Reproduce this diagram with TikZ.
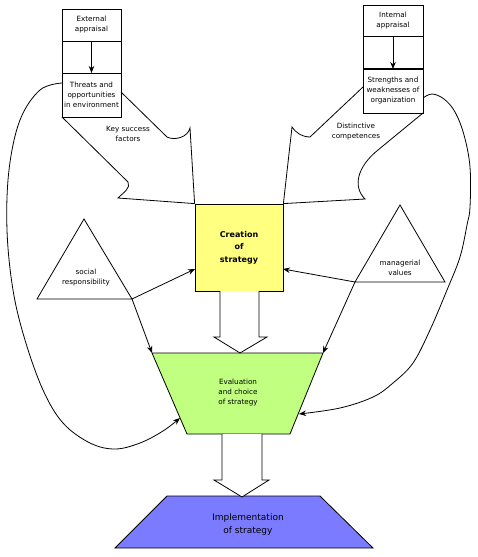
\documentclass[tikz,border=0pt]{standalone}
\usepackage{fontspec}
\setmainfont{DejaVu Sans}
\usetikzlibrary{arrows.meta}
\definecolor{cyellow}{RGB}{255,255,128}
\definecolor{cgreen}{RGB}{192,255,128}
\definecolor{cblue}{RGB}{123,123,255}
\begin{document}
\begin{tikzpicture}[x=1pt,y=-1pt,line width=0.8pt,
  lbl/.style={font=\fontsize{7.2}{10}\selectfont,align=center,inner sep=0pt},
  arr/.style={-{Stealth[length=7pt,width=5.5pt]}},
  boxs/.style={draw,minimum width=59pt,inner sep=0pt,outer sep=0pt,anchor=north west}]
\useasboundingbox (0,0) rectangle (477,557);

% external appraisal column
\node[boxs,lbl,minimum height=32pt] (ext) at (62,9) {External\\appraisal};
\node[boxs,minimum height=32pt] (extmid) at (62,41) {};
\node[boxs,lbl,minimum height=44pt] (thr) at (62,73) {Threats and\\opportunities\\in environment};
\draw[arr] (ext.south) -- (thr.north);

% internal appraisal column
\node[boxs,lbl,minimum width=60pt,minimum height=31pt] (int) at (363,5) {Internal\\appraisal};
\node[boxs,minimum width=60pt,minimum height=33pt] (intmid) at (363,36) {};
\node[boxs,lbl,minimum width=60pt,minimum height=44pt] (str) at (363,69) {Strengths and\\weaknesses of\\organization};
\draw[arr] (int.south) -- (str.north);
\draw[line width=1.6pt] (str.north west) -- (str.north east);

% creation of strategy
\node[draw,fill=cyellow,minimum width=88pt,minimum height=87pt,inner sep=0pt,
  font=\bfseries\fontsize{8}{12.5}\selectfont,align=center] (cre) at (239,247.5) {Creation\\of\\strategy};

% funnels
\draw (thr.south west) -- (128,182) .. controls (131,188) and (124,192) .. (118,198) -- (cre.north west);
\draw (121,92) -- (167,137) .. controls (175,141) and (188,137) .. (190,128) -- (cre.north west);
\draw (363,87) -- (310,137) .. controls (302,137) and (295,132) .. (292,127) -- (cre.north east);
\draw (str.south east) -- (378,150) .. controls (358,166) and (352,186) .. (365,199) -- (cre.north east);
\node[lbl] (ksf) at (128,134) {Key success\\factors};
\node[lbl] (dc) at (356,132) {Distinctive\\competences};

% evaluation trapezoid
\coordinate (g1) at (152,353);
\coordinate (g2) at (323,353);
\coordinate (g3) at (290,434);
\coordinate (g4) at (187,434);
\draw[fill=cgreen] (g1) -- (g2) -- (g3) -- (g4) -- cycle;
\node[lbl] (eva) at (238,393) {Evaluation\\and choice\\of strategy};

% implementation trapezoid
\coordinate (p1) at (167,496);
\coordinate (p2) at (320,496);
\coordinate (p3) at (373,548);
\coordinate (p4) at (115,548);
\draw[fill=cblue] (p1) -- (p2) -- (p3) -- (p4) -- cycle;
\node[font=\fontsize{9}{13}\selectfont,align=center,inner sep=0pt] (imp) at (248,525) {Implementation\\of strategy};

% block arrows
\draw[fill=white] (220,291) -- (220,337) -- (214,337) -- (240,353) -- (267,337) -- (259,337) -- (259,291);
\draw[fill=white] (222,434) -- (222,480) -- (214,480) -- (242,497) -- (269,480) -- (262,480) -- (262,434);

% triangles
\coordinate (sa) at (84,219);
\coordinate (sr) at (132,299);
\coordinate (sl) at (37,299);
\draw (sa) -- (sr) -- (sl) -- cycle;
\node[lbl] (soc) at (86,278) {social\\responsibility};
\coordinate (ma) at (400,205);
\coordinate (mr) at (445,282);
\coordinate (mv) at (355,282);
\draw (ma) -- (mr) -- (mv) -- cycle;
\node[lbl] (man) at (400,268) {managerial\\values};

\coordinate (creL) at (195,269);
\coordinate (creR) at (283,269);
\draw[arr] (sr) -- (creL);
\draw[arr] (sr) -- (g1);
\draw[arr] (mv) -- (creR);
\draw[arr] (mv) -- (g2);

% big feedback curves
\draw[arr] plot[smooth,tension=0.6] coordinates {(62,83) (40,90) (20,120) (9,170) (7,230) (13,290) (25,340) (43,390) (63,423) (90,443) (115,449) (140,443) (163,431) (180,418)};
\draw[arr] plot[smooth,tension=0.6] coordinates {(423,98) (432,94) (444,99) (455,112) (464,135) (470,167) (470,207) (467,225) (460,257) (447,290) (430,330) (413,363) (393,383) (373,397) (340,408) (299,414)};
\end{tikzpicture}
\end{document}
